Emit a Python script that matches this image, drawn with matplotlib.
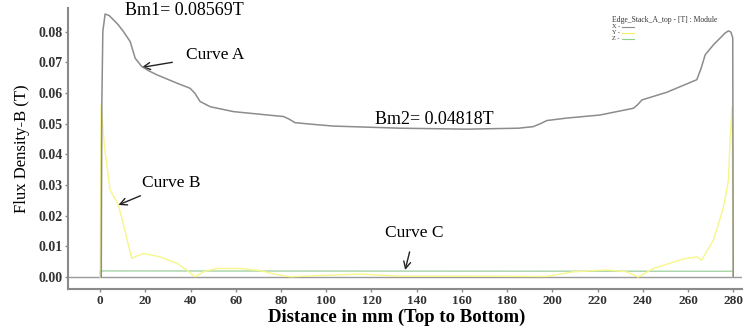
import matplotlib.pyplot as plt
from matplotlib.lines import Line2D

# Curve A (module / X)
xa = [0.5, 0.75, 1.2, 2.2, 4.0, 5.9, 8.0, 10.3, 13.3, 15.5, 18.4, 21.5, 25.1, 33.9, 39.8, 42.0,
      44.2, 48.7, 59.0, 70.0, 81.1, 83.5, 86.2, 95.0, 103.0, 132.7, 162.2, 185.0, 191.5, 194.5,
      197.6, 206.4, 221.1, 235.9, 237.8, 239.6, 250.6, 263.9, 265.8, 267.6, 271.3, 274.0, 276.4,
      277.9, 279.0, 279.8, 280.0]
ya = [0.0, 0.0561, 0.0800, 0.0857, 0.0852, 0.0838, 0.0822, 0.0800, 0.0767, 0.0713, 0.0686, 0.0672,
      0.0659, 0.0632, 0.0615, 0.0598, 0.0572, 0.0555, 0.0539, 0.0531, 0.0523, 0.0515, 0.0503,
      0.0497, 0.0492, 0.0485, 0.0482, 0.0485, 0.0490, 0.0499, 0.0510, 0.0518, 0.0528, 0.0550,
      0.0562, 0.0577, 0.0602, 0.0643, 0.0680, 0.0724, 0.0757, 0.0777, 0.0795, 0.0802, 0.0798,
      0.0779, 0.0]

# Curve B (Y component)
xb = [0.0, 0.4, 2.0, 4.4, 8.1, 11.0, 14.0, 16.0, 19.2, 26.5, 33.9, 38.0, 42.0, 46.0, 51.6, 62.0,
      70.8, 77.0, 84.0, 100.0, 115.0, 132.7, 160.0, 197.6, 209.0, 224.0, 233.0, 238.0, 244.7,
      258.0, 263.9, 266.0, 271.3, 274.0, 275.7, 277.9, 278.6, 279.5, 280.0]
yb = [0.0, 0.0560, 0.0420, 0.0284, 0.0235, 0.0150, 0.0061, 0.0068, 0.0077, 0.0066, 0.0045, 0.0025,
      0.0001, 0.0018, 0.0028, 0.0028, 0.0021, 0.0010, 0.0001, 0.0006, 0.0010, 0.0003, 0.0003,
      0.0002, 0.0017, 0.0023, 0.0017, 0.0000, 0.0028, 0.0059, 0.0066, 0.0055, 0.0121, 0.0186,
      0.0229, 0.0316, 0.0447, 0.0555, 0.0]

# Curve C (Z component)
xc = [0.0, 0.0, 280.0, 280.0]
yc = [0.0, 0.0020, 0.0019, 0.0]

xticks = list(range(0, 281, 20))
yticks = [0.00, 0.01, 0.02, 0.03, 0.04, 0.05, 0.06, 0.07, 0.08]

serif = ["Liberation Serif", "DejaVu Serif"]

fig = plt.figure(figsize=(7.45, 3.27), dpi=100)
ax = fig.add_axes([0.0913, 0.116, 0.905, 0.859])

ax.axhline(0, color="#9a9a9a", lw=1.0, zorder=1)
ax.plot(xc, yc, color="#a6d3a6", lw=1.0, zorder=2)
ax.plot(xb, yb, color="#f6f68a", lw=1.0, zorder=3)
ax.plot(xa, ya, color="#8c8c8c", lw=1.1, zorder=4)

ax.set_xlim(-14.2, 284)
ax.set_ylim(-0.0039, 0.0876)
ax.set_xticks(xticks)
ax.set_yticks(yticks)
ax.set_xticklabels([str(v) for v in xticks], family=serif, fontweight="bold", fontsize=9.5, color="#333333")
ax.set_yticklabels(["%.2f" % v for v in yticks], family=serif, fontweight="bold", fontsize=10, color="#333333")
ax.tick_params(axis="both", length=2.5, width=1, color="#888888", pad=1.5)

for s in ["top", "right"]:
    ax.spines[s].set_visible(False)
for s in ["left", "bottom"]:
    ax.spines[s].set_color("#8a8a8a")
    ax.spines[s].set_linewidth(1.5)

ax.set_xlabel("Distance in mm (Top to Bottom)", family=serif, fontweight="bold", fontsize=13.5, va="center")
ax.xaxis.set_label_coords(0.487, -0.1)
ax.set_ylabel("Flux Density-B (T)", family=serif, fontsize=12, labelpad=6)

# annotations
ax.text(11, 0.0868, "Bm1= 0.08569T", family=serif, fontsize=13, va="center", ha="left", clip_on=False)
ax.text(121.6, 0.0512, "Bm2= 0.04818T", family=serif, fontsize=13, va="center", ha="left")
ax.annotate("Curve A", xy=(18.4, 0.0683), xytext=(38, 0.0723), family=serif, fontsize=12.5,
            va="center", ha="left",
            arrowprops=dict(arrowstyle="->", color="#222222", lw=1.0, shrinkA=8, shrinkB=0))
ax.annotate("Curve B", xy=(8.1, 0.0235), xytext=(18.6, 0.0307), family=serif, fontsize=12.5,
            va="center", ha="left",
            arrowprops=dict(arrowstyle="->", color="#222222", lw=1.0, shrinkA=4, shrinkB=0))
ax.annotate("Curve C", xy=(134.9, 0.0023), xytext=(126, 0.01435), family=serif, fontsize=12.5,
            va="center", ha="left",
            arrowprops=dict(arrowstyle="->", color="#222222", lw=1.0, shrinkA=6, shrinkB=0))

# small legend block at top right
fig.text(612 / 745, 1 - 20 / 327, "Edge_Stack_A_top - [T] : Module", family=serif, fontsize=5.5,
         va="center", ha="left", color="#333333")
leg_rows = [("X - ", "#8c8c8c", 27), ("Y - ", "#f0f060", 33), ("Z - ", "#8fcf8f", 39)]
for lab, col, py in leg_rows:
    fig.text(612 / 745, 1 - py / 327, lab, family=serif, fontsize=4.5, va="center", ha="left", color="#333333")
    fig.add_artist(Line2D([622 / 745, 634 / 745], [1 - py / 327, 1 - py / 327], color=col, lw=0.8,
                          transform=fig.transFigure))

fig.savefig("out.png", dpi=100)
